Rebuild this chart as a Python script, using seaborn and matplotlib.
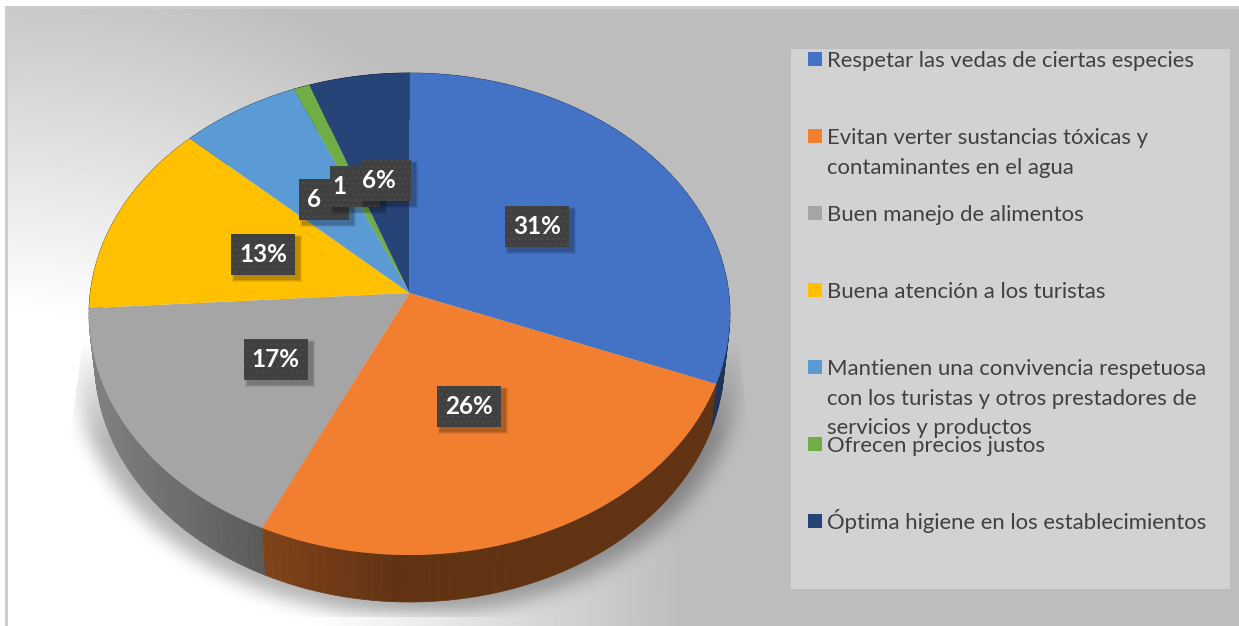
import numpy as np
import matplotlib
matplotlib.use("Agg")
import matplotlib.pyplot as plt
from matplotlib.patches import Rectangle, Polygon
import seaborn as sns

# datos
categorias = [
    "Respetar las vedas de ciertas especies",
    "Evitan verter sustancias tóxicas y\ncontaminantes en el agua",
    "Buen manejo de alimentos",
    "Buena atención a los turistas",
    "Mantienen una convivencia respetuosa\ncon los turistas y otros prestadores de\nservicios y productos",
    "Ofrecen precios justos",
    "Óptima higiene en los establecimientos",
]
valores = [31, 26, 17, 13, 6.6, 0.9, 5.5]
etiquetas = ["31%", "26%", "17%", "13%", "6", "1", "6%"]
colores = ["#4472C4", "#F27F30", "#A5A5A5", "#FFC000", "#5B9BD5", "#70AD47", "#264478"]

sns.set_theme(style="white")
plt.rcParams["font.family"] = ["Lato", "DejaVu Sans"]
plt.rcParams["hatch.linewidth"] = 0.8

W, H = 1239, 626
# geometria de la torta en perspectiva
CX, CY = 409.5, 293
A, B, K = 319.3, 239.2, 0.0871
PROF = 47
ESC_BASE = 0.982

def punto(frac, r=1.0):
    t = 2 * np.pi * np.asarray(frac)
    den = 1 + K * r * np.cos(t)
    return CX + A * r * np.sin(t) / den, CY - B * r * np.cos(t) / den

def borroso(m, n):
    for eje in (0, 1):
        for _ in range(3):
            c = np.cumsum(m, axis=eje)
            c = np.moveaxis(c, eje, 0)
            s = np.zeros_like(c)
            s[n:-n] = c[2 * n:] - c[:-2 * n]
            s /= 2 * n
            m = np.moveaxis(s, 0, eje)
    return m

fig = plt.figure(figsize=(W / 100, H / 100), dpi=100)
ax = fig.add_axes([0, 0, 1, 1])

# fondo con degradado radial desde abajo a la izquierda
yy, xx = np.mgrid[0:H, 0:W] + 0.5
dist = np.hypot(xx, yy - H)
gris = np.clip(255 - (dist - 312) * 0.178, 189, 255) / 255
gris[(xx < 8) | (yy < 9)] = 1.0
gris[((xx >= 5) & (xx < 8) & (yy >= 6)) | ((yy >= 6) & (yy < 9) & (xx >= 5))] = 0.8
ax.imshow(gris, cmap="gray", vmin=0, vmax=1, extent=(0, W, H, 0), aspect="auto", zorder=0)

# sombra
m = (((xx - CX) / 332) ** 2 + ((yy - 314 - PROF - 6) / 250) ** 2 < 1).astype(float)
m = borroso(m, 9)
rampa = np.clip((yy - 340) / 100, 0, 1)
borde_izq = 75 - (yy - 400) * 0.13
borde_der = 738 + (yy - 340) * 0.117
dentro = (xx > borde_izq) & (xx < borde_der) & (yy < 619) & (yy > 300)
rgba = np.zeros((H, W, 4))
rgba[..., 3] = 0.3 * m * rampa * dentro
ax.imshow(rgba, extent=(0, W, H, 0), aspect="auto", zorder=1)
ax.set_xlim(0, W)
ax.set_ylim(H, 0)
ax.axis("off")

# lados y tapa
cortes = np.concatenate([[0], np.cumsum(valores)]) / np.sum(valores)
for i, c in enumerate(colores):
    rgb = np.array(matplotlib.colors.to_rgb(c))
    fr = np.linspace(cortes[i], cortes[i + 1], 60)
    x, y = punto(fr)
    xb = CX + (x - CX) * ESC_BASE
    for j in range(len(fr) - 1):
        xm = (x[j] + x[j + 1]) / 2
        if i == 2:
            luz = np.interp(xm, [89, 261], [0.78, 0.55])
        elif i == 1:
            luz = np.interp(xm, [261, 400], [0.53, 0.40])
        else:
            luz = 0.45
        ax.add_patch(Polygon(
            [(x[j], y[j]), (x[j + 1], y[j + 1]), (xb[j + 1], y[j + 1] + PROF), (xb[j], y[j] + PROF)],
            fc=rgb * luz, ec=rgb * luz, lw=0.5, zorder=2))

for i, c in enumerate(colores):
    fr = np.linspace(cortes[i], cortes[i + 1], 120)
    x, y = punto(fr)
    ax.fill(np.r_[CX, x], np.r_[CY, y], color=c, lw=0, zorder=3)

# etiquetas de datos, la caja de cada una tapa en parte a la anterior
ajuste_x = [-1, -1.5, 1.5, 1.5, 3, 1.5, 3]
ajuste_y = [-0.5, -2.5, -2, 1, 1, 0.5, 0]
ancho_caja = [64, 64, 64, 64, 50, 50, 50]
texto_dx = [0, 0, 0, 0, -10, -16, -7]
medios = (cortes[:-1] + cortes[1:]) / 2
for i, et in enumerate(etiquetas):
    x, y = punto(medios[i], 0.5)
    x, y = x + ajuste_x[i], y + ajuste_y[i]
    w = ancho_caja[i]
    z = 5 + i
    for s, al in zip((6, 4, 2), (0.08, 0.10, 0.12)):
        ax.add_patch(Rectangle((x - w / 2 + 4 - s / 2, y - 20.5 + 4 - s / 2), w + s, 41 + s,
                               fc="black", ec="none", alpha=al, zorder=z))
    ax.add_patch(Rectangle((x - w / 2, y - 20.5), w, 41, fc="#404040", ec="#4C4C4C",
                           lw=0, hatch="...", zorder=z))
    ax.text(x + texto_dx[i], y, et, color="white", fontsize=17.5, fontweight="bold",
            ha="center", va="center", zorder=z)

# leyenda
ax.add_patch(Rectangle((791, 49), 439, 540, fc="#D2D2D2", ec="none", zorder=2))
for i, cat in enumerate(categorias):
    yc = 59 + 77 * i
    ax.add_patch(Rectangle((808, yc - 7), 14, 14, fc=colores[i], ec="none", zorder=3))
    for j, linea in enumerate(cat.split("\n")):
        ax.text(827, yc + 8 + 29.6 * j, linea, color="#404040", fontsize=15.9,
                ha="left", va="baseline", zorder=4)

fig.savefig("out.png", dpi=100)
